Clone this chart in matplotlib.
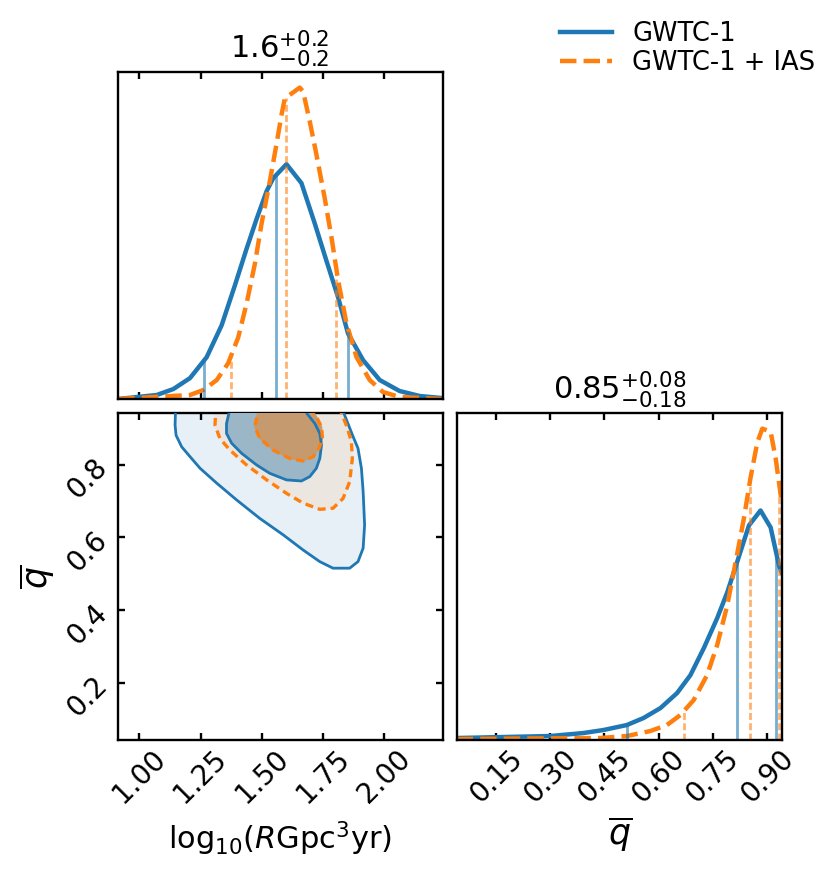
import numpy as np
import matplotlib
matplotlib.use("Agg")
import matplotlib.pyplot as plt

# ---------------- data ----------------
labels = ["GWTC-1", "GWTC-1 + IAS"]

# marginal of log10(R)
rate_x_gwtc = [0.914, 1.071, 1.139, 1.207, 1.275, 1.336, 1.390, 1.438, 1.479, 1.520, 1.547,
               1.601, 1.662, 1.717, 1.764, 1.812, 1.852, 1.914, 1.982, 2.063, 2.145, 2.233]
rate_pdf_gwtc = [0.00, 0.04, 0.10, 0.21, 0.42, 0.74, 1.14, 1.51, 1.81, 2.09, 2.22,
                 2.36, 2.17, 1.76, 1.39, 1.02, 0.66, 0.39, 0.19, 0.08, 0.03, 0.01]
rate_x_ias = [0.914, 1.207, 1.261, 1.316, 1.363, 1.404, 1.438, 1.472, 1.499, 1.533, 1.560, 1.581, 1.594,
              1.655, 1.669, 1.696, 1.723, 1.757, 1.785, 1.812, 1.846, 1.887, 1.941, 1.995, 2.063, 2.233]
rate_pdf_ias = [0.00, 0.04, 0.09, 0.19, 0.36, 0.62, 0.96, 1.36, 1.76, 2.19, 2.56, 2.86, 3.02,
                3.13, 3.09, 2.79, 2.46, 2.02, 1.62, 1.19, 0.76, 0.42, 0.19, 0.07, 0.02, 0.00]
rate_quant_gwtc = [1.265, 1.557, 1.852]
rate_quant_ias = [1.373, 1.597, 1.805]

# marginal of q
q_x_gwtc = [0.041, 0.300, 0.392, 0.447, 0.512, 0.558, 0.605, 0.651, 0.688, 0.725, 0.762,
            0.790, 0.817, 0.850, 0.882, 0.910, 0.933, 0.940]
q_pdf_gwtc = [0.02, 0.04, 0.07, 0.10, 0.15, 0.22, 0.32, 0.47, 0.65, 0.92, 1.22,
              1.48, 1.78, 2.15, 2.30, 2.13, 1.75, 1.68]
q_x_ias = [0.041, 0.438, 0.512, 0.577, 0.623, 0.660, 0.697, 0.734, 0.762, 0.790, 0.813,
           0.836, 0.854, 0.873, 0.887, 0.910, 0.924, 0.940]
q_pdf_ias = [0.01, 0.02, 0.04, 0.09, 0.15, 0.25, 0.40, 0.65, 0.95, 1.35, 1.78,
             2.22, 2.62, 2.98, 3.12, 3.09, 2.82, 2.40]
q_quant_gwtc = [0.512, 0.817, 0.926]
q_quant_ias = [0.669, 0.852, 0.934]

# 2D credible-region outlines (log10 R, q)
c_gwtc_outer_x = [1.150, 1.146, 1.150, 1.173, 1.207, 1.248, 1.316, 1.397, 1.492, 1.587, 1.669, 1.737,
                  1.791, 1.859, 1.893, 1.914, 1.920, 1.914, 1.907, 1.893, 1.873, 1.852, 1.835, 1.83]
c_gwtc_outer_y = [1.000, 0.909, 0.881, 0.849, 0.822, 0.790, 0.749, 0.703, 0.652, 0.607, 0.565, 0.533,
                  0.515, 0.515, 0.533, 0.570, 0.634, 0.726, 0.790, 0.845, 0.877, 0.913, 0.942, 1.000]
c_gwtc_inner_x = [1.386, 1.356, 1.356, 1.377, 1.418, 1.479, 1.533, 1.601, 1.662, 1.696, 1.723,
                  1.737, 1.744, 1.737, 1.717, 1.683, 1.67]
c_gwtc_inner_y = [1.000, 0.913, 0.886, 0.859, 0.831, 0.799, 0.776, 0.758, 0.755, 0.767, 0.790,
                  0.817, 0.854, 0.886, 0.913, 0.942, 1.000]
c_ias_outer_x = [1.316, 1.309, 1.329, 1.370, 1.438, 1.520, 1.601, 1.669, 1.737, 1.791, 1.832,
                 1.859, 1.870, 1.866, 1.848, 1.825, 1.81]
c_ias_outer_y = [1.000, 0.909, 0.872, 0.840, 0.799, 0.758, 0.721, 0.694, 0.677, 0.680, 0.707,
                 0.753, 0.817, 0.863, 0.904, 0.942, 1.000]
c_ias_inner_x = [1.50, 1.472, 1.492, 1.547, 1.615, 1.669, 1.710, 1.734, 1.748, 1.744, 1.723, 1.700, 1.69]
c_ias_inner_y = [1.000, 0.904, 0.872, 0.840, 0.817, 0.810, 0.822, 0.845, 0.872, 0.904, 0.932, 0.955, 1.000]

rate_title = r"$1.6^{+0.2}_{-0.2}$"
q_title = r"$0.85^{+0.08}_{-0.18}$"
rate_ticks = [1.00, 1.25, 1.50, 1.75, 2.00]
q_ticks_y = [0.2, 0.4, 0.6, 0.8]
q_ticks_x = [0.15, 0.30, 0.45, 0.60, 0.75, 0.90]

# ---------------- style ----------------
BLUE = "#1f77b4"
ORANGE = "#ff7f0e"
RATE_LIM = (0.911, 2.239)
Q_LIM = (0.042, 0.942)
LW = 3.2
QLW = 2.0
QDASH = (2.5, 1.2)

plt.rcParams["mathtext.fontset"] = "dejavusans"
fig = plt.figure(figsize=(8.30, 8.74), dpi=100)

W, H = 0.3918, 0.3741
ax_r = fig.add_axes([0.1416, 0.5435, W, H])
ax_2d = fig.add_axes([0.1416, 0.1533, W, H])
ax_q = fig.add_axes([0.5506, 0.1533, W, H])

def style(ax, left=True):
    for s in ax.spines.values():
        s.set_linewidth(1.7)
    ax.tick_params(direction="in", length=5, width=1.7, top=True, right=left, left=left,
                   labelsize=20)

# --- rate marginal
ax_r.plot(rate_x_gwtc, rate_pdf_gwtc, color=BLUE, lw=LW, label=labels[0])
ax_r.plot(rate_x_ias, rate_pdf_ias, color=ORANGE, lw=LW, ls="--", label=labels[1])
for v in rate_quant_gwtc:
    ax_r.plot([v, v], [0, np.interp(v, rate_x_gwtc, rate_pdf_gwtc)], color=BLUE, lw=QLW, alpha=0.6)
for v in rate_quant_ias:
    ax_r.plot([v, v], [0, np.interp(v, rate_x_ias, rate_pdf_ias)], color=ORANGE, lw=QLW, alpha=0.6,
              ls=(0, QDASH))
ax_r.set_xlim(RATE_LIM)
ax_r.set_ylim(0, 1.05 * max(max(rate_pdf_gwtc), max(rate_pdf_ias)))
ax_r.set_xticks(rate_ticks)
ax_r.set_xticklabels([])
ax_r.set_yticks([])
style(ax_r, left=False)
ax_r.set_title(rate_title, fontsize=22, pad=10)

# --- 2D
ax_2d.fill(c_gwtc_outer_x, c_gwtc_outer_y, color="#e7eff7", zorder=1)
ax_2d.fill(c_ias_outer_x, c_ias_outer_y, color="#ebe6e0", zorder=2)
ax_2d.fill(c_gwtc_inner_x, c_gwtc_inner_y, color="#9bb6c6", zorder=3)
ax_2d.fill(c_ias_inner_x, c_ias_inner_y, color="#c59a6f", zorder=4)
ax_2d.plot(c_gwtc_outer_x, c_gwtc_outer_y, color=BLUE, lw=2.0, zorder=5)
ax_2d.plot(c_gwtc_inner_x, c_gwtc_inner_y, color=BLUE, lw=2.0, zorder=5)
ax_2d.plot(c_ias_outer_x, c_ias_outer_y, color=ORANGE, lw=2.4, ls=(0, (2.4, 1.5)), zorder=6)
ax_2d.plot(c_ias_inner_x, c_ias_inner_y, color=ORANGE, lw=2.4, ls=(0, (2.4, 1.5)), zorder=6)
ax_2d.set_xlim(RATE_LIM)
ax_2d.set_ylim(Q_LIM)
ax_2d.set_xticks(rate_ticks)
ax_2d.set_xticklabels([f"{t:.2f}" for t in rate_ticks], rotation=45)
ax_2d.set_yticks(q_ticks_y)
ax_2d.set_yticklabels([f"{t:.1f}" for t in q_ticks_y], rotation=45)
style(ax_2d)
ax_2d.set_xlabel(r"$\mathrm{log}_{10}(R\mathrm{Gpc}^3\mathrm{yr})$", fontsize=22, labelpad=8)
ax_2d.set_ylabel(r"$\overline{q}$", fontsize=25)

# --- q marginal
ax_q.plot(q_x_gwtc, q_pdf_gwtc, color=BLUE, lw=LW)
ax_q.plot(q_x_ias, q_pdf_ias, color=ORANGE, lw=LW, ls="--")
for v in q_quant_gwtc:
    ax_q.plot([v, v], [0, np.interp(v, q_x_gwtc, q_pdf_gwtc)], color=BLUE, lw=QLW, alpha=0.6)
for v in q_quant_ias:
    ax_q.plot([v, v], [0, np.interp(v, q_x_ias, q_pdf_ias)], color=ORANGE, lw=QLW, alpha=0.6,
              ls=(0, QDASH))
ax_q.set_xlim(Q_LIM)
ax_q.set_ylim(0, 1.05 * max(max(q_pdf_gwtc), max(q_pdf_ias)))
ax_q.set_xticks(q_ticks_x)
ax_q.set_xticklabels([f"{t:.2f}" for t in q_ticks_x], rotation=45)
ax_q.set_yticks([])
style(ax_q, left=False)
ax_q.set_xlabel(r"$\overline{q}$", fontsize=25)
ax_q.set_title(q_title, fontsize=22, pad=10)

fig.legend(handles=ax_r.get_lines()[:2], labels=labels, loc="upper right",
           bbox_to_anchor=(1.010, 1.003), frameon=False, fontsize=18.5,
           handlelength=2.0, handletextpad=0.8, labelspacing=0.15)

fig.savefig("out.png", dpi=100)
